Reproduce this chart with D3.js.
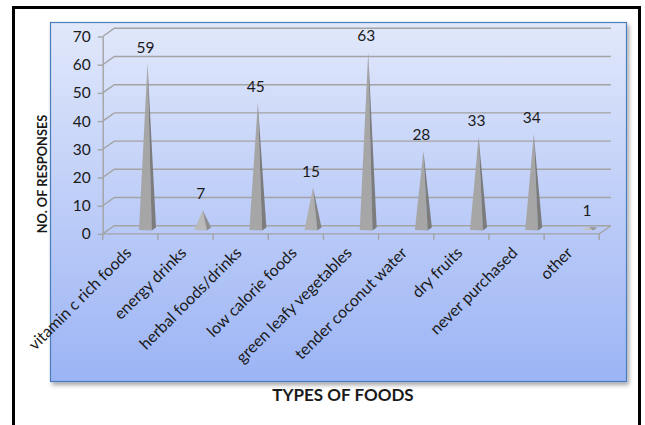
<!DOCTYPE html>
<html>
<head>
<meta charset="utf-8">
<script src="https://cdn.jsdelivr.net/npm/d3@7"></script>
<style>
  html, body { margin: 0; padding: 0; background: #fff; }
  svg { display: block; }
  text { font-family: Lato, "Open Sans", "Liberation Sans", sans-serif; fill: #1a1a1a; }
</style>
</head>
<body>
<svg id="chart" width="645" height="425"></svg>
<script>
// Food types bought and the number of responses for each
const categories = [
  "vitamin c rich foods", "energy drinks", "herbal foods/drinks",
  "low calorie foods", "green leafy vegetables", "tender coconut water",
  "dry fruits", "never purchased", "other"
];
const responses = [59, 7, 45, 15, 63, 28, 33, 34, 1];
const yTicks = [0, 10, 20, 30, 40, 50, 60, 70];
const xTitle = "TYPES OF FOODS";
const yTitle = "NO. OF RESPONSES";

const svg = d3.select("#chart");
const defs = svg.append("defs");

// plot-area fill: pale blue fading to a deeper blue
const grad = defs.append("linearGradient").attr("id", "plotFill")
  .attr("x1", 0).attr("y1", 0).attr("x2", 0).attr("y2", 1);
grad.append("stop").attr("offset", "0%").attr("stop-color", "#e1e8fb");
grad.append("stop").attr("offset", "100%").attr("stop-color", "#9cb4f5");

const shadow = defs.append("filter").attr("id", "shadow")
  .attr("x", "-5%").attr("y", "-5%").attr("width", "115%").attr("height", "115%");
shadow.append("feDropShadow").attr("dx", 2).attr("dy", 3).attr("stdDeviation", 2)
  .attr("flood-color", "#000").attr("flood-opacity", 0.35);

// outer frame
svg.append("rect").attr("x", 13.5).attr("y", 7.5).attr("width", 626).attr("height", 430)
  .attr("fill", "#fff").attr("stroke", "#000").attr("stroke-width", 3);

// plot area
svg.append("rect").attr("x", 50.5).attr("y", 22.5).attr("width", 576).attr("height", 359)
  .attr("fill", "url(#plotFill)").attr("stroke", "#4a7ebb").attr("stroke-width", 1.2)
  .attr("filter", "url(#shadow)");

// scales: front plane of the 3-D box
const x = d3.scaleBand().domain(categories).range([102.7, 599.3]).padding(0);
const y = d3.scaleLinear().domain([0, 70]).range([233.9, 36.5]);
const depth = { dx: 11.6, dy: -8.2 };
const x0 = x.range()[0], x1 = x.range()[1];

const grid = svg.append("g").attr("fill", "none").attr("stroke", "#a3a3a3").attr("stroke-width", 1.4);
// back-wall gridlines, each bent at the left wall
yTicks.forEach(v => {
  const p = d3.path();
  p.moveTo(x0, y(v));
  p.lineTo(x0 + depth.dx, y(v) + depth.dy);
  p.lineTo(x1 + depth.dx, y(v) + depth.dy);
  grid.append("path").attr("d", p.toString());
});
// floor front edge and right edge
{
  const p = d3.path();
  p.moveTo(x0, y(0));
  p.lineTo(x1, y(0));
  p.lineTo(x1 + depth.dx, y(0) + depth.dy);
  grid.append("path").attr("d", p.toString());
}

// value axis
const yAxis = svg.append("g").attr("transform", `translate(${x0},0)`)
  .call(d3.axisLeft(y).tickValues(yTicks).tickSize(5).tickSizeOuter(0).tickPadding(7));
yAxis.select(".domain").attr("stroke", "#a3a3a3").attr("stroke-width", 1.4);
yAxis.selectAll(".tick line").attr("stroke", "#a3a3a3").attr("stroke-width", 1.4);
yAxis.selectAll(".tick text").attr("font-size", 15.5).attr("fill", "#1a1a1a")
  .style("font-family", "Lato, 'Open Sans', sans-serif");

// category tick marks at the band edges
const edges = categories.map(c => x(c)).concat([x1]);
svg.append("g").selectAll("line").data(edges).join("line")
  .attr("x1", d => d).attr("x2", d => d)
  .attr("y1", y(0)).attr("y2", y(0) + 6)
  .attr("stroke", "#a3a3a3").attr("stroke-width", 1.4);

// category labels, slanted
svg.append("g").selectAll("text").data(categories).join("text")
  .attr("transform", c => `translate(${x(c) + x.bandwidth() / 2 + 2},${y(0) + 20}) rotate(-45)`)
  .attr("text-anchor", "end")
  .attr("font-size", 16)
  .text(c => c);

// pyramids, set halfway into the depth of the box
const shift = { dx: 17.2, dy: -4 };
const half = 8.5;
const shade = d3.scaleLinear().domain([0, 60]).range([0, 1]).clamp(true);
const pyr = svg.append("g");
categories.forEach((c, i) => {
  const v = responses[i];
  const cx = x(c) + x.bandwidth() / 2 + shift.dx;
  const base = y(0) + shift.dy;
  const tipY = y(v) + shift.dy;
  const h = base - tipY;
  const t = shade(h);
  const lit = d3.interpolateRgb("#c4c4c4", "#a6a6a6")(t);
  const dark = d3.interpolateRgb("#979797", "#7c7c7c")(t);
  const split = cx + 4.3;
  pyr.append("path")
    .attr("d", `M${cx - half},${base}L${split},${base + 0.6}L${cx},${tipY}Z`)
    .attr("fill", lit);
  pyr.append("path")
    .attr("d", `M${split},${base + 0.6}L${cx + half},${base - 2.4}L${cx},${tipY}Z`)
    .attr("fill", dark);
  pyr.append("text")
    .attr("x", cx - 2).attr("y", tipY - 11)
    .attr("text-anchor", "middle")
    .attr("font-size", 15.5)
    .text(v);
});

// axis titles
svg.append("text")
  .attr("x", 343).attr("y", 401)
  .attr("text-anchor", "middle").attr("font-weight", "bold").attr("font-size", 17)
  .text(xTitle);
svg.append("text")
  .attr("transform", "translate(47,174) rotate(-90)")
  .attr("text-anchor", "middle").attr("font-weight", "bold").attr("font-size", 12.8)
  .text(yTitle);
</script>
</body>
</html>
